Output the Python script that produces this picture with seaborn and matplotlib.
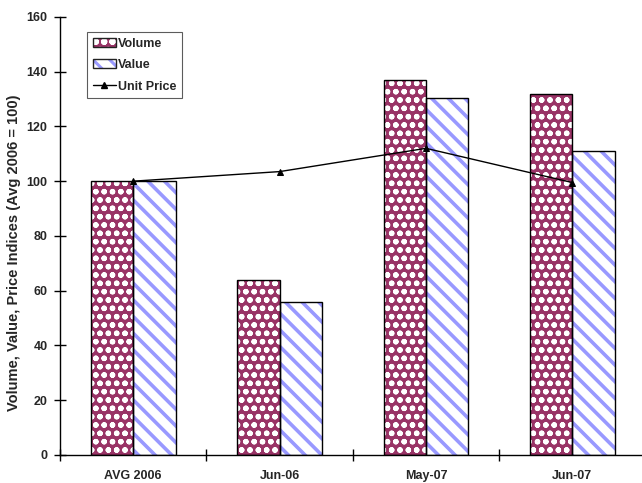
import matplotlib
matplotlib.use("Agg")
import matplotlib.pyplot as plt
from matplotlib.patches import Rectangle, Patch
from matplotlib.lines import Line2D
from matplotlib.legend_handler import HandlerTuple
import seaborn as sns
import pandas as pd

# Index values, Avg 2006 = 100
periods = ["AVG 2006", "Jun-06", "May-07", "Jun-07"]
volume = [100, 64, 137, 132]
value = [100, 56, 130.5, 111]
unit_price = [100, 103.5, 112, 99.5]
y_ticks = [0, 20, 40, 60, 80, 100, 120, 140, 160]

VOL_FACE = "#993366"
VAL_HATCH = "#9999FF"

sns.set_theme(style="white")
plt.rcParams["font.family"] = ["Liberation Sans", "DejaVu Sans"]
plt.rcParams["font.weight"] = "bold"
plt.rcParams["hatch.linewidth"] = 2.2

df = pd.DataFrame({
    "Period": periods * 2,
    "Index": volume + value,
    "Series": ["Volume"] * len(periods) + ["Value"] * len(periods),
})

fig = plt.figure(figsize=(6.42, 4.83), dpi=100)
ax = fig.add_axes([0.0935, 0.058, 0.912, 0.907])

sns.barplot(data=df, x="Period", y="Index", hue="Series", order=periods,
            hue_order=["Volume", "Value"], width=0.58, ax=ax,
            palette={"Volume": VOL_FACE, "Value": "white"},
            saturation=1, legend=False, linewidth=0)

bars = [p for p in ax.patches if isinstance(p, Rectangle)]
n = len(periods)
for i, p in enumerate(bars[:2 * n]):
    if i < n:
        p.set_facecolor(VOL_FACE)
        p.set_edgecolor("white")
        p.set_hatch("oo")
        if hasattr(p, "set_hatch_linewidth"):
            p.set_hatch_linewidth(1.6)
    else:
        p.set_facecolor("white")
        p.set_edgecolor(VAL_HATCH)
        p.set_hatch("\\\\")
        if hasattr(p, "set_hatch_linewidth"):
            p.set_hatch_linewidth(2.6)
    p.set_linewidth(0)
    # black outline drawn on top of the patterned fill
    ax.add_patch(Rectangle(p.get_xy(), p.get_width(), p.get_height(),
                           fill=False, edgecolor="black", linewidth=1.0,
                           zorder=p.get_zorder() + 0.1))

sns.lineplot(x=periods, y=unit_price, ax=ax, color="black", linewidth=1.0,
             marker="^", markersize=5, markeredgecolor="black", sort=False,
             zorder=5)

ax.set_xlim(-0.5, n - 0.5)
ax.set_ylim(0, 160)
ax.set_yticks(y_ticks)
ax.set_yticklabels([str(t) for t in y_ticks], fontsize=9, fontweight="bold")
ax.set_xticks(range(n))
ax.set_xticklabels(periods, fontsize=9, fontweight="bold")
ax.set_xticks([i - 0.5 for i in range(n + 1)], minor=True)
ax.tick_params(axis="x", which="major", bottom=True, length=0, pad=11)
ax.tick_params(axis="x", which="minor", bottom=True, direction="inout",
               length=9, width=1, color="black")
ax.tick_params(axis="y", left=True, direction="inout", length=8, width=1,
               color="black", pad=5)
ax.set_xlabel("")
ax.set_ylabel("Volume, Value, Price Indices (Avg 2006 = 100)", fontsize=10.5,
              fontweight="bold")
ax.yaxis.set_label_coords(-0.066, 0.462)

for side in ["top", "right"]:
    ax.spines[side].set_visible(False)
for side in ["left", "bottom"]:
    ax.spines[side].set_color("black")
    ax.spines[side].set_linewidth(1.0)


def swatch(face, hatch_color, hatch):
    fill = Patch(facecolor=face, edgecolor=hatch_color, hatch=hatch, linewidth=0)
    outline = Patch(facecolor="none", edgecolor="#222222", linewidth=1.0)
    return (fill, outline)


handles = [
    swatch(VOL_FACE, "white", "oo"),
    swatch("white", VAL_HATCH, "\\\\"),
    Line2D([0], [0], color="black", linewidth=1.0, marker="^", markersize=5),
]
leg = ax.legend(handles, ["Volume", "Value", "Unit Price"], loc="upper left",
                bbox_to_anchor=(0.046, 0.965), frameon=True, fancybox=False,
                edgecolor="#333333",
                prop={"size": 9, "weight": "bold"},
                handler_map={tuple: HandlerTuple(ndivide=1)},
                handlelength=1.9, handleheight=0.75, handletextpad=0.15,
                labelspacing=0.75, borderpad=0.45, borderaxespad=0)
leg.get_frame().set_linewidth(0.8)

fig.savefig("out.png", dpi=100)
